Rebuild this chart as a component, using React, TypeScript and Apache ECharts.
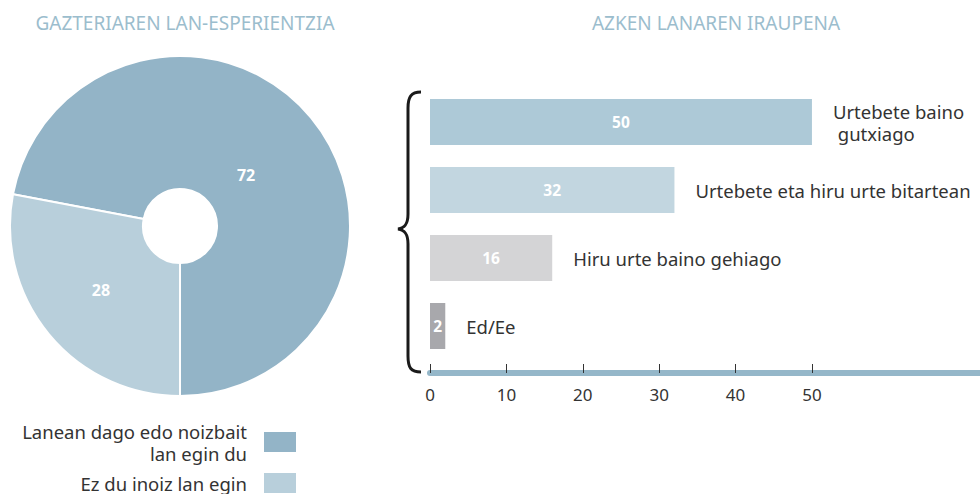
import React, { useEffect, useRef } from "react";
import * as echarts from "echarts";

const pieTitle = "GAZTERIAREN LAN-ESPERIENTZIA";
const barTitle = "AZKEN LANAREN IRAUPENA";
const pieNames = ["Lanean dago edo noizbait\nlan egin du", "Ez du inoiz lan egin"];
const pieValues = [72, 28];
const pieColors = ["#93b4c7", "#b8cfdb"];
const barCategories = [
  "Urtebete baino\n gutxiago",
  "Urtebete eta hiru urte bitartean",
  "Hiru urte baino gehiago",
  "Ed/Ee",
];
const barValues = [50, 32, 16, 2];
const barColors = ["#adc9d7", "#c2d6e0", "#d4d4d6", "#a8a8ac"];
const tickValues = [0, 10, 20, 30, 40, 50];

const FONT = "Noto Sans";
const braceD =
  "M421,92 C411,92 408,97 408,108 L408,214 C408,224 405,228 398,229 C405,230 408,234 408,244 L408,356 C408,368 411,372 421,372";

const legendText = {
  color: "#333",
  fontSize: 18.5,
  fontFamily: FONT,
  lineHeight: 22,
  align: "right",
  padding: [0, 11, 0, 0],
};

export default function App() {
  const ref = useRef<HTMLDivElement>(null);
  useEffect(() => {
    if (!ref.current) return;
    echarts.graphic.registerShape("brace", echarts.graphic.extendPath(braceD, {}));
    const chart = echarts.init(ref.current, null, { renderer: "svg" });
    chart.setOption({
      animation: false,
      textStyle: { fontFamily: FONT },
      title: [
        {
          text: pieTitle,
          left: 180,
          textAlign: "center",
          top: 8,
          textStyle: { color: "#9bbdcd", fontSize: 19, fontWeight: "normal", fontFamily: FONT },
        },
        {
          text: barTitle,
          left: 711,
          textAlign: "center",
          top: 8,
          textStyle: { color: "#9bbdcd", fontSize: 19, fontWeight: "normal", fontFamily: FONT },
        },
      ],
      legend: [
        {
          orient: "vertical",
          right: 682,
          top: 420,
          padding: 0,
          align: "right",
          itemWidth: 34,
          itemHeight: 22,
          icon: "rect",
          selectedMode: false,
          textStyle: legendText,
          data: [pieNames[0]],
        },
        {
          orient: "vertical",
          right: 682,
          top: 471,
          padding: 0,
          align: "right",
          itemWidth: 34,
          itemHeight: 22,
          icon: "rect",
          selectedMode: false,
          textStyle: legendText,
          data: [pieNames[1]],
        },
      ],
      grid: { left: 430, right: 0, top: 88, height: 272, containLabel: false },
      xAxis: {
        type: "value",
        min: 0,
        max: 72,
        interval: 10,
        offset: 13,
        splitLine: { show: false },
        axisLine: { show: true, lineStyle: { color: "#95b7c9", width: 6 } },
        axisTick: {
          show: true,
          inside: true,
          length: 9,
          lineStyle: { color: "#333", width: 1 },
          customValues: tickValues,
        },
        axisLabel: {
          color: "#333",
          fontSize: 17,
          margin: 13,
          fontFamily: FONT,
          customValues: tickValues,
          formatter: (v: number) => (v <= 50 ? String(v) : ""),
        },
      },
      yAxis: {
        type: "category",
        inverse: true,
        data: barCategories,
        axisLine: { show: false },
        axisTick: { show: false },
        axisLabel: { show: false },
      },
      graphic: [
        {
          type: "brace",
          x: 0,
          y: 0,
          style: { fill: null, stroke: "#1a1a1a", lineWidth: 3 },
        },
      ],
      series: [
        {
          type: "pie",
          center: [180, 226],
          radius: [37, 170],
          startAngle: -90,
          clockwise: false,
          label: {
            show: true,
            position: "inside",
            color: "#fff",
            fontWeight: "bold",
            fontSize: 16,
            fontFamily: FONT,
            formatter: "{c}",
          },
          labelLine: { show: false },
          itemStyle: { borderColor: "#fff", borderWidth: 2 },
          emphasis: { disabled: true },
          data: pieNames.map((n, i) => ({
            name: n,
            value: pieValues[i],
            itemStyle: { color: pieColors[i] },
            label: { offset: i === 0 ? [-16, 17] : [3, -4] },
          })),
        },
        {
          type: "bar",
          barWidth: 46,
          data: barValues.map((v, i) => ({ value: v, itemStyle: { color: barColors[i] } })),
          label: {
            show: true,
            position: "inside",
            color: "#fff",
            fontWeight: "bold",
            fontSize: 15.5,
            fontFamily: FONT,
          },
          emphasis: { disabled: true },
        },
        {
          type: "bar",
          barWidth: 46,
          barGap: "-100%",
          data: barValues,
          itemStyle: { color: "rgba(0,0,0,0)" },
          label: {
            show: true,
            position: "right",
            distance: 21,
            color: "#333",
            fontSize: 18.5,
            fontFamily: FONT,
            lineHeight: 22,
            align: "left",
            formatter: (p: any) => barCategories[p.dataIndex],
          },
          emphasis: { disabled: true },
        },
      ],
    });
    return () => chart.dispose();
  }, []);
  return <div ref={ref} style={{ width: 980, height: 494, position: "absolute", left: 0, top: 0 }} />;
}
